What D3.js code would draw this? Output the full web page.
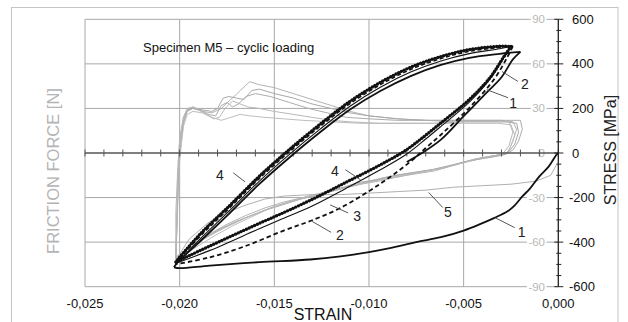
<!DOCTYPE html>
<html><head><meta charset="utf-8">
<script src="https://cdn.jsdelivr.net/npm/d3@7"></script>
<style>
html,body{margin:0;padding:0;background:#fff;}
svg{display:block;font-family:"Liberation Sans",Arial,sans-serif;}
</style></head>
<body><svg id="c" width="628" height="322"></svg>
<script>
// ---------- data ----------
const strainTicks = [-0.025,-0.020,-0.015,-0.010,-0.005,0];
const stressTicks = [-600,-400,-200,0,200,400,600];
const frictionTicks = [-90,-60,-30,0,30,60,90];

// cycle 1 (solid): initial compressive loading, upper branch, lower branch
const loop1Load = [[0,0],[-.0001,-8],[-.0005,-60],[-.0010,-105],[-.0015,-160],[-.0019,-195],[-.0023,-235],[-.0027,-263],[-.0034,-292],[-.0041,-318],[-.0050,-348],[-.0062,-378],[-.0075,-400],[-.0089,-427],[-.0100,-445],[-.0115,-464],[-.0131,-478],[-.0158,-490],[-.0184,-505],[-.0200,-517],[-.0203,-513]];
const loop1Upper = [[-.0203,-513],[-.0201,-490],[-.0189,-395],[-.0173,-265],[-.0158,-140],[-.0142,-20],[-.0126,92],[-.0110,195],[-.0094,278],[-.0078,345],[-.0062,395],[-.0047,427],[-.0031,445],[-.0020,454]];
const loop1Lower = [[-.0020,454],[-.0024,420],[-.0030,340],[-.0038,270],[-.0050,165],[-.0062,60],[-.0072,0],[-.0080,-40]];
// cycle 2 (dashed)
const loop2Upper = [[-.0202,-499],[-.0201,-484],[-.0189,-372],[-.0173,-241],[-.0158,-115],[-.0142,6],[-.0126,118],[-.0110,222],[-.0094,307],[-.0078,375],[-.0062,424],[-.0047,456],[-.0031,474],[-.0024,480]];
const loop2Lower = [[-.0024,480],[-.0027,429],[-.0034,330],[-.0047,203],[-.0062,82],[-.0071,15],[-.0078,-38],[-.0094,-138],[-.0115,-246],[-.0131,-305],[-.0145,-348],[-.0166,-420],[-.0185,-470],[-.0202,-499]];
// cycle 3 (thin solid)
const loop3Upper = [[-.0202,-495],[-.0200,-480],[-.0189,-384],[-.0173,-253],[-.0158,-127],[-.0142,-6],[-.0126,106],[-.0110,210],[-.0094,295],[-.0078,363],[-.0062,413],[-.0047,446],[-.0031,468],[-.0025,478]];
const loop3Lower = [[-.0025,478],[-.0029,425],[-.0036,332],[-.0047,228],[-.0063,112],[-.0073,42],[-.0081,-10],[-.0094,-75],[-.0112,-158],[-.0130,-238],[-.0147,-300],[-.0158,-340],[-.0184,-437],[-.0202,-495]];
// cycle 4 (with markers)
const loop4Upper = [[-.0202,-489],[-.0201,-478],[-.0189,-362],[-.0173,-231],[-.0158,-105],[-.0142,16],[-.0126,128],[-.0110,232],[-.0094,317],[-.0078,385],[-.0062,433],[-.0047,464],[-.0031,479],[-.0025,478]];
const loop4Lower = [[-.0025,478],[-.0029,429],[-.0036,339],[-.0047,240],[-.0063,128],[-.0073,60],[-.0081,10],[-.0094,-53],[-.0112,-131],[-.0130,-208],[-.0147,-275],[-.0158,-316],[-.0184,-417],[-.0202,-489]];

// friction force cycles (grey) [strain, N]
const frictionA = [[-.0202,-72],[-.0202,-40],[-.0201,-10],[-.0200,10],[-.0198,24],[-.0196,29],[-.0193,30],[-.0188,28],[-.0183,27],[-.0178,30],[-.0173,36],[-.0168,42],[-.0163,48],[-.0158,46],[-.0150,44],[-.0140,40],[-.0130,36],[-.0120,32],[-.0110,28],[-.0100,25],[-.0085,23],[-.0070,22],[-.0055,22],[-.0040,22],[-.0030,22],[-.0024,21],[-.0022,16],[-.0024,8],[-.0026,2],[-.0028,-1],[-.0035,-2],[-.0045,-5],[-.0055,-8],[-.0065,-12],[-.0075,-14],[-.0085,-16],[-.0095,-19],[-.0105,-21],[-.0115,-24],[-.0125,-27],[-.0135,-30],[-.0145,-33],[-.0155,-37],[-.0165,-42],[-.0175,-48],[-.0185,-55],[-.0195,-63],[-.0202,-72]];
const frictionB = [[-.0202,-70],[-.0201,-30],[-.0200,0],[-.0198,20],[-.0196,28],[-.0193,30],[-.0188,29],[-.0183,28],[-.0180,30],[-.0177,37],[-.0174,38],[-.0170,37],[-.0166,36],[-.0162,42],[-.0158,43],[-.0150,40],[-.0140,37],[-.0130,33],[-.0120,30],[-.0110,27],[-.0100,25],[-.0085,23],[-.0070,22],[-.0055,21],[-.0040,21],[-.0028,21],[-.0022,20],[-.0021,14],[-.0023,6],[-.0026,1],[-.0030,-1],[-.0040,-3],[-.0050,-6],[-.0060,-10],[-.0070,-12],[-.0080,-14],[-.0090,-16],[-.0100,-19],[-.0110,-22],[-.0120,-26],[-.0130,-29],[-.0140,-32],[-.0150,-36],[-.0160,-41],[-.0170,-46],[-.0180,-52],[-.0190,-60],[-.0202,-70]];
const frictionC = [[-.0202,-73],[-.0201,-35],[-.0200,-5],[-.0198,18],[-.0196,26],[-.0193,28],[-.0188,27],[-.0183,24],[-.0178,22],[-.0173,24],[-.0168,26],[-.0163,25],[-.0155,24],[-.0145,23],[-.0135,22],[-.0120,21],[-.0105,20],[-.0090,20],[-.0075,20],[-.0060,20],[-.0045,20],[-.0032,20],[-.0025,19],[-.0023,12],[-.0025,5],[-.0027,0],[-.0032,-2],[-.0042,-4],[-.0052,-7],[-.0062,-10],[-.0072,-13],[-.0082,-15],[-.0092,-17],[-.0102,-20],[-.0112,-23],[-.0122,-26],[-.0132,-29],[-.0142,-33],[-.0152,-37],[-.0162,-43],[-.0172,-49],[-.0182,-56],[-.0192,-64],[-.0202,-73]];
const frictionD = [[-.0202,-71],[-.0201,-25],[-.0200,5],[-.0198,22],[-.0196,29],[-.0193,31],[-.0189,29],[-.0185,26],[-.0181,25],[-.0178,32],[-.0175,34],[-.0172,31],[-.0169,33],[-.0165,38],[-.0160,40],[-.0152,38],[-.0142,34],[-.0132,30],[-.0122,27],[-.0112,24],[-.0100,23],[-.0085,22],[-.0070,22],[-.0055,22],[-.0040,22],[-.0028,22],[-.0020,22],[-.0019,16],[-.0021,8],[-.0024,2],[-.0028,-1],[-.0036,-3],[-.0046,-5],[-.0056,-8],[-.0066,-11],[-.0076,-13],[-.0086,-15],[-.0096,-18],[-.0106,-20],[-.0116,-24],[-.0126,-28],[-.0136,-31],[-.0146,-35],[-.0156,-39],[-.0166,-44],[-.0176,-50],[-.0186,-57],[-.0195,-64],[-.0202,-71]];
const frictionE = [[-.0202,-72],[-.0201,-20],[-.0200,8],[-.0198,24],[-.0196,30],[-.0193,31],[-.0190,29],[-.0186,26],[-.0182,23],[-.0179,24],[-.0176,30],[-.0172,35],[-.0168,33],[-.0164,31],[-.0158,30],[-.0150,28],[-.0140,26],[-.0130,24],[-.0120,22],[-.0110,21],[-.0095,20],[-.0080,20],[-.0065,20],[-.0050,21],[-.0035,21],[-.0026,21],[-.0024,14],[-.0026,5],[-.0029,0],[-.0034,-2],[-.0044,-4],[-.0054,-8],[-.0064,-11],[-.0074,-13],[-.0084,-16],[-.0094,-18],[-.0104,-21],[-.0114,-24],[-.0124,-27],[-.0134,-30],[-.0144,-34],[-.0154,-38],[-.0164,-43],[-.0174,-49],[-.0184,-55],[-.0194,-63],[-.0202,-72]];
const friction5 = [[-.0001,-8],[-.0004,-15],[-.0012,-19],[-.0025,-21],[-.0040,-22],[-.0055,-23],[-.0070,-25],[-.0085,-26],[-.0100,-27],[-.0115,-28],[-.0130,-28],[-.0145,-29],[-.0155,-31],[-.0165,-35],[-.0175,-40],[-.0185,-47],[-.0195,-58],[-.0202,-72]];

// annotation labels: text, label baseline [strain, MPa], leader from/to [strain, MPa]
const labelText = ["2","1","4","4","3","2","5","1"];
const labelPos = [[-.00176,285],[-.00239,204],[-.01787,-120],[-.01180,-105],[-.01063,-305],[-.01153,-390],[-.00583,-285],[-.00193,-375]];
const leaderFrom = [[-.00298,366],[-.00378,284],[-.01717,-89],[-.01125,-75],[-.01205,-233],[-.01300,-307],[-.00685,-177],[-.00335,-290]];
const leaderTo = [[-.00213,321],[-.00265,248],[-.01655,-129],[-.01045,-120],[-.01110,-269],[-.01200,-356],[-.00610,-245],[-.00230,-335]];

// ---------- drawing ----------
const svg = d3.select("#c");
const L = 85, R = 558.3, T = 19.3, B = 286.7;
const x = d3.scaleLinear().domain([-0.025, 0]).range([L, R]);
const y = d3.scaleLinear().domain([-600, 600]).range([B, T]);
const yF = d3.scaleLinear().domain([-90, 90]).range([B, T]);
const loc = d3.formatLocale({decimal: ",", thousands: ".", grouping: [3], currency: ["", ""], minus: "-"});
const fmtX = loc.format(".3f");

// outer frame
svg.append("rect").attr("x", 11.5).attr("y", 7.5).attr("width", 606.5).attr("height", 330)
  .attr("fill", "none").attr("stroke", "#c4c4c4").attr("stroke-width", 1);

// grid
const grid = svg.append("g").attr("stroke", "#a8a8a8").attr("stroke-width", 1);
strainTicks.filter(v => v < 0).forEach(v => grid.append("line").attr("x1", x(v)).attr("x2", x(v)).attr("y1", T).attr("y2", B));
stressTicks.filter(v => v !== 0).forEach(v => grid.append("line").attr("x1", L).attr("x2", R).attr("y1", y(v)).attr("y2", y(v)));

// friction axis labels (grey, inside)
const fl = svg.append("g").attr("font-size", 11.5).attr("fill", "#b8b8b8").attr("text-anchor", "end");
frictionTicks.forEach(v => {
  const t = fl.append("text").attr("x", 545).attr("y", yF(v) + 4).text(loc.format("d")(v));
  const bb = t.node().getBBox();
  fl.insert("rect", "text").attr("x", bb.x - 1.5).attr("y", yF(v) - 4).attr("width", bb.width + 3).attr("height", 8).attr("fill", "#fff");
});

// friction curves
const lineF = d3.line().x(d => x(d[0])).y(d => yF(d[1]));
const fr = [frictionA, frictionB, frictionC, frictionD, frictionE];
const frCol = ["#b4b4b4", "#a9a9a9", "#bdbdbd", "#acacac", "#b8b8b8"];
fr.forEach((d, i) => svg.append("path").attr("d", lineF(d)).attr("fill", "none").attr("stroke", frCol[i]).attr("stroke-width", 1));
svg.append("path").attr("d", lineF(friction5)).attr("fill", "none").attr("stroke", "#b0b0b0").attr("stroke-width", 1);

// zero axis with ticks
svg.append("line").attr("x1", L).attr("x2", R).attr("y1", y(0)).attr("y2", y(0)).attr("stroke", "#555").attr("stroke-width", 1.6);
d3.range(-25, 1).forEach(k => svg.append("line").attr("x1", x(k / 1000)).attr("x2", x(k / 1000))
  .attr("y1", y(0) - 3.5).attr("y2", y(0) + 3.5).attr("stroke", "#555").attr("stroke-width", 1));

// stress curves
const lineSc = d3.line().x(d => x(d[0])).y(d => y(d[1])).curve(d3.curveCatmullRom.alpha(0.5));
function draw(d, w, dash) {
  return svg.append("path").attr("d", lineSc(d)).attr("fill", "none").attr("stroke", "#111")
    .attr("stroke-width", w).attr("stroke-dasharray", dash || null).attr("stroke-linejoin", "round");
}
draw(loop3Upper, 1.1); draw(loop3Lower, 1.1);
const p4u = draw(loop4Upper, 1.5), p4l = draw(loop4Lower, 1.5);
[p4u, p4l].forEach(p => {
  const n = p.node(), len = n.getTotalLength();
  for (let s = 0; s < len; s += 3) {
    const pt = n.getPointAtLength(s);
    svg.append("circle").attr("cx", pt.x).attr("cy", pt.y).attr("r", 1.7).attr("fill", "#111");
  }
});
draw(loop2Upper, 1.6, "4,2.5"); draw(loop2Lower, 1.8, "4.5,3");
draw(loop1Load, 1.8); draw(loop1Upper, 1.8); draw(loop1Lower, 1.8);

// right stress axis
const ax = svg.append("g");
ax.append("line").attr("x1", R).attr("x2", R).attr("y1", T).attr("y2", B).attr("stroke", "#222").attr("stroke-width", 1.3);
d3.range(-600, 601, 50).forEach(v => {
  const major = v % 200 === 0;
  ax.append("line").attr("x1", major ? R - 4 : R - 2).attr("x2", major ? R + 5 : R + 3)
    .attr("y1", y(v)).attr("y2", y(v)).attr("stroke", "#222").attr("stroke-width", 1);
});
stressTicks.forEach(v => ax.append("text").attr("x", v < 0 ? 569 : 572).attr("y", y(v) + 4.5)
  .attr("font-size", 13).attr("fill", "#111").text(loc.format("d")(v)));

// x tick labels
strainTicks.forEach(v => svg.append("text").attr("x", x(v)).attr("y", 307.5).attr("text-anchor", "middle")
  .attr("font-size", 13).attr("fill", "#111").text(fmtX(v)));

// axis titles
svg.append("text").attr("x", 323).attr("y", 320).attr("text-anchor", "middle").attr("font-size", 16).attr("fill", "#111").text("STRAIN");
svg.append("text").attr("transform", "translate(616,150) rotate(-90)").attr("text-anchor", "middle").attr("font-size", 16).attr("fill", "#222").text("STRESS [MPa]");
svg.append("text").attr("transform", "translate(59,171) rotate(-90)").attr("text-anchor", "middle").attr("font-size", 16.5).attr("fill", "#b4b4b4").text("FRICTION FORCE [N]");

// title
svg.append("text").attr("x", 143).attr("y", 52).attr("font-size", 13).attr("fill", "#111").text("Specimen M5 \u2013 cyclic loading");

// annotations
labelText.forEach((t, i) => {
  svg.append("line").attr("x1", x(leaderFrom[i][0])).attr("y1", y(leaderFrom[i][1]))
    .attr("x2", x(leaderTo[i][0])).attr("y2", y(leaderTo[i][1])).attr("stroke", "#444").attr("stroke-width", 0.9);
  svg.append("text").attr("x", x(labelPos[i][0])).attr("y", y(labelPos[i][1])).attr("text-anchor", "middle")
    .attr("font-size", 14).attr("fill", "#222").text(t);
});
</script></body></html>
